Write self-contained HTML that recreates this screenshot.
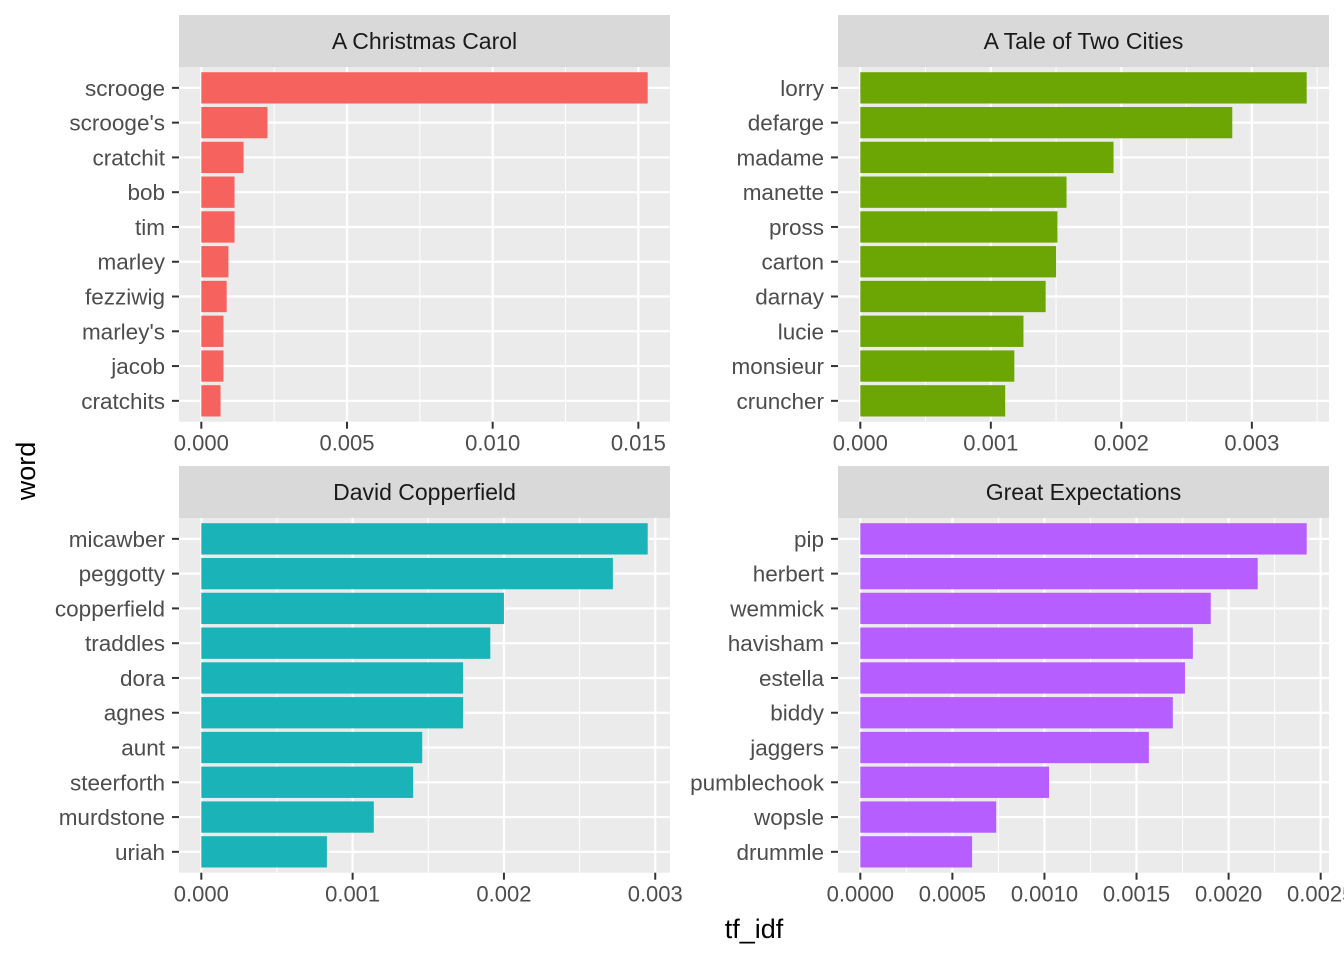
<!DOCTYPE html>
<html><head><meta charset="utf-8"><style>
body{margin:0;background:#fff}
svg{display:block;font-family:"Liberation Sans",Arial,sans-serif}
</style></head><body>
<svg id="chart" width="1344" height="960" viewBox="0 0 1344 960"></svg>
<script>
const titles=["A Christmas Carol","A Tale of Two Cities","David Copperfield","Great Expectations"];
const words0=["scrooge","scrooge's","cratchit","bob","tim","marley","fezziwig","marley's","jacob","cratchits"];
const values0=[0.01532,0.00227,0.00145,0.00114,0.00114,0.00093,0.00087,0.00076,0.00076,0.00066];
const words1=["lorry","defarge","madame","manette","pross","carton","darnay","lucie","monsieur","cruncher"];
const values1=[0.00342,0.00285,0.00194,0.00158,0.00151,0.0015,0.00142,0.00125,0.00118,0.00111];
const words2=["micawber","peggotty","copperfield","traddles","dora","agnes","aunt","steerforth","murdstone","uriah"];
const values2=[0.00295,0.00272,0.002,0.00191,0.00173,0.00173,0.00146,0.0014,0.00114,0.00083];
const words3=["pip","herbert","wemmick","havisham","estella","biddy","jaggers","pumblechook","wopsle","drummle"];
const values3=[0.002424,0.002158,0.001903,0.001806,0.001763,0.001697,0.001567,0.001025,0.000738,0.000607];
const ticks0=[0,0.005,0.01,0.015];
const tickLabels0=["0.000","0.005","0.010","0.015"];
const ticks1=[0,0.001,0.002,0.003];
const tickLabels1=["0.000","0.001","0.002","0.003"];
const ticks2=[0,0.001,0.002,0.003];
const tickLabels2=["0.000","0.001","0.002","0.003"];
const ticks3=[0,0.0005,0.001,0.0015,0.002,0.0025];
const tickLabels3=["0.0000","0.0005","0.0010","0.0015","0.0020","0.0025"];
const colors=["#F6625E","#6BA605","#19B3B8","#B65EFF"];

const NS="http://www.w3.org/2000/svg";
const svg=document.getElementById('chart');
function mk(tag,attrs,parent){const e=document.createElementNS(NS,tag);for(const k in attrs)e.setAttribute(k,attrs[k]);(parent||svg).appendChild(e);return e;}

const panels=[
 {x0:179,x1:670,y0:67,y1:421.7,sy:15,words:words0,vals:values0,ticks:ticks0,tl:tickLabels0},
 {x0:838,x1:1329,y0:67,y1:421.7,sy:15,words:words1,vals:values1,ticks:ticks1,tl:tickLabels1},
 {x0:179,x1:670,y0:518,y1:872.7,sy:466,words:words2,vals:values2,ticks:ticks2,tl:tickLabels2},
 {x0:838,x1:1329,y0:518,y1:872.7,sy:466,words:words3,vals:values3,ticks:ticks3,tl:tickLabels3}
];
panels.forEach((p,i)=>{
  const g=mk('g',{});
  
  
  const max=Math.max(...p.vals);
  const W=p.x1-p.x0, s=W/(1.1*max);
  const xs=v=>p.x0+0.05*max*s+v*s;
  const n=p.words.length, H=p.y1-p.y0, step=H/(n-1+1.2);
  const ys=k=>p.y0+step*(0.6+k);
  const strip=mk('rect',{x:p.x0,y:p.sy,width:W,height:p.y0-p.sy,fill:'#d9d9d9'},g);
  
  
  const st=mk('text',{x:(p.x0+p.x1)/2,y:(p.sy+p.y0)/2+8,'text-anchor':'middle','font-size':'23',fill:'#1a1a1a'},g);
  st.textContent=titles[i];
  
  
  const bg=mk('rect',{x:p.x0,y:p.y0,width:W,height:H,fill:'#ebebeb'},g);
  
  
  for(let t=0;t<p.ticks.length;t++){
    const d=p.ticks[1]-p.ticks[0];
    const m=p.ticks[t]+d/2;const xm=xs(m);
    if(xm<p.x1) mk('line',{x1:xm,x2:xm,y1:p.y0,y2:p.y1,stroke:'#fff','stroke-width':1},g);
    const xm2=xs(p.ticks[0]-d/2); if(t==0&&xm2>p.x0) mk('line',{x1:xm2,x2:xm2,y1:p.y0,y2:p.y1,stroke:'#fff','stroke-width':1},g);
  }
  p.ticks.forEach((t,k)=>{
    const x=xs(t);
    if(x<=p.x1) mk('line',{x1:x,x2:x,y1:p.y0,y2:p.y1,stroke:'#fff','stroke-width':2.2},g);
    mk('line',{x1:x,x2:x,y1:p.y1,y2:p.y1+7,stroke:'#333','stroke-width':2},g);
    const tx=mk('text',{x:x,y:p.y1+29,'text-anchor':'middle','font-size':'22',fill:'#4d4d4d'},g);
    tx.textContent=p.tl[k];
    
    
  });
  p.words.forEach((w,k)=>{
    const y=ys(k);
    mk('line',{x1:p.x0,x2:p.x1,y1:y,y2:y,stroke:'#fff','stroke-width':2.2},g);
  });
  p.words.forEach((w,k)=>{
    const y=ys(k);
    const b=mk('rect',{x:xs(0),y:y-step*0.45,width:xs(p.vals[k])-xs(0),height:step*0.9,fill:colors[i]},g);
    
    
    mk('line',{x1:p.x0-7,x2:p.x0,y1:y,y2:y,stroke:'#333','stroke-width':2},g);
    const lt=mk('text',{x:p.x0-14,y:y+8,'text-anchor':'end','font-size':'22.5',fill:'#4d4d4d'},g);
    lt.textContent=w;
    
    
  });
});
const yt=mk('text',{x:0,y:0,transform:'translate(35,471) rotate(-90)','text-anchor':'middle','font-size':'27',fill:'#000'});
yt.textContent='word';


const xt=mk('text',{x:754,y:938,'text-anchor':'middle','font-size':'27',fill:'#000'});
xt.textContent='tf_idf';


</script>
</body></html>
